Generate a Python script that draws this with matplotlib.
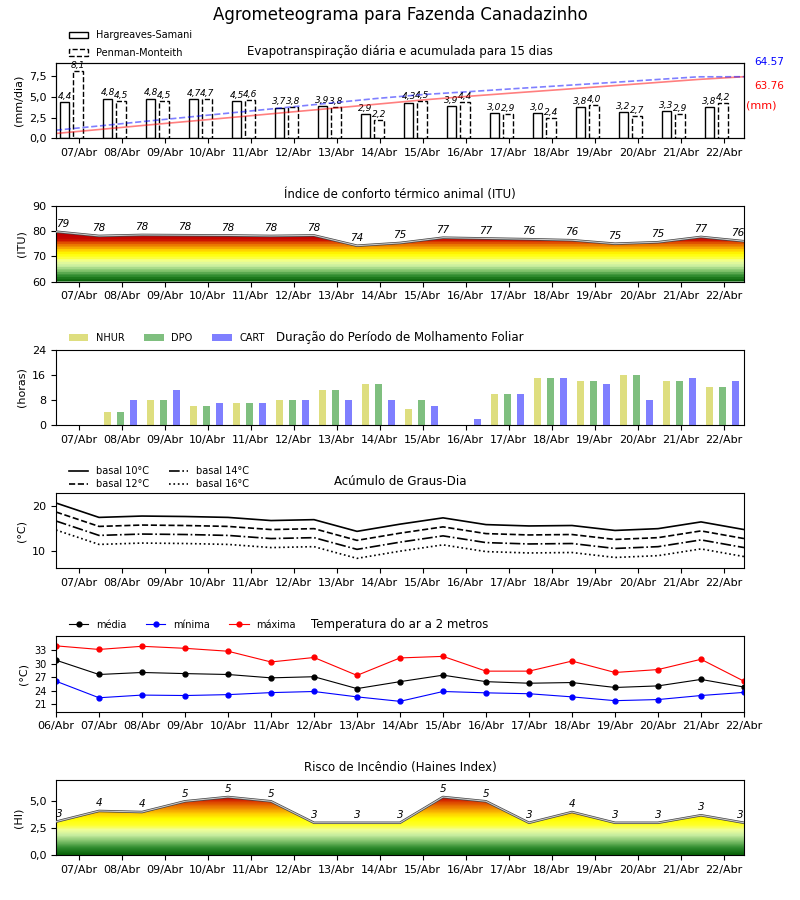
import numpy as np
import matplotlib
matplotlib.use('Agg')
import matplotlib.pyplot as plt
from matplotlib.colors import LinearSegmentedColormap
from matplotlib.ticker import FuncFormatter, MultipleLocator
from matplotlib.patches import Patch

# ---- data ----
dias = ['07/Abr', '08/Abr', '09/Abr', '10/Abr', '11/Abr', '12/Abr', '13/Abr', '14/Abr',
        '15/Abr', '16/Abr', '17/Abr', '18/Abr', '19/Abr', '20/Abr', '21/Abr', '22/Abr']
dias_temp = ['06/Abr'] + dias

et_hs = [4.4, 4.8, 4.8, 4.7, 4.5, 3.7, 3.9, 2.9, 4.3, 3.9, 3.0, 3.0, 3.8, 3.2, 3.3, 3.8]
et_pm = [8.1, 4.5, 4.5, 4.7, 4.6, 3.8, 3.8, 2.2, 4.5, 4.4, 2.9, 2.4, 4.0, 2.7, 2.9, 4.2]
acum_hs = [5.0, 9.5, 14.0, 18.4, 22.8, 27.3, 31.7, 36.2, 40.7, 44.6, 48.2, 51.7, 55.3, 58.9, 62.5, 65.4]
acum_pm = [8.5, 13.3, 18.2, 23.0, 27.8, 32.6, 37.5, 42.3, 46.4, 49.5, 52.7, 55.8, 58.9, 62.1, 65.3, 65.4]
total_hs = '63.76'
total_pm = '64.57'

itu = [79.9, 78.2, 78.6, 78.5, 78.4, 78.2, 78.4, 74.3, 75.4, 77.5, 77.2, 76.9, 76.5,
       75.1, 75.7, 77.8, 76.1]

nhur = [0, 4, 8, 6, 7, 8, 11, 13, 5, 0, 10, 15, 14, 16, 14, 12]
dpo = [0, 4, 8, 6, 7, 8, 11, 13, 8, 0, 10, 15, 14, 16, 14, 12]
cart = [0, 8, 11, 7, 7, 8, 8, 8, 6, 2, 10, 15, 13, 8, 15, 14]

gd10 = [20.7, 17.5, 17.8, 17.7, 17.5, 16.8, 17.0, 14.4, 16.0, 17.4, 15.9, 15.6, 15.7, 14.6, 15.0, 16.5, 14.8]
gd12 = [18.7, 15.5, 15.8, 15.7, 15.5, 14.8, 15.0, 12.4, 14.0, 15.4, 13.9, 13.6, 13.7, 12.6, 13.0, 14.5, 12.8]
gd14 = [16.7, 13.5, 13.8, 13.7, 13.5, 12.8, 13.0, 10.4, 12.0, 13.4, 11.9, 11.6, 11.7, 10.6, 11.0, 12.5, 10.8]
gd16 = [14.7, 11.5, 11.8, 11.7, 11.5, 10.8, 11.0, 8.4, 10.0, 11.4, 9.9, 9.6, 9.7, 8.6, 9.0, 10.5, 8.8]

t_med = [30.8, 27.6, 28.05, 27.8, 27.6, 26.85, 27.1, 24.45, 26.0, 27.45, 26.0, 25.65, 25.8,
         24.7, 25.05, 26.5, 24.8]
t_min = [26.1, 22.4, 23.0, 22.9, 23.1, 23.55, 23.8, 22.6, 21.6, 23.8, 23.5, 23.3, 22.6,
         21.75, 22.0, 22.9, 23.6]
t_max = [34.0, 33.2, 33.9, 33.45, 32.8, 30.4, 31.4, 27.4, 31.3, 31.65, 28.35, 28.35, 30.6,
         28.05, 28.7, 31.0, 26.1]

haines = [3.1, 4.1, 4.0, 5.0, 5.4, 5.0, 3.0, 3.0, 3.0, 5.4, 5.0, 3.0, 4.0, 3.0, 3.0, 3.7, 3.0]

# ---- helpers ----
def virgula(v, pos=None):
    return ('%.1f' % v).replace('.', ',')


def gradient_fill(ax, x, y, cmap, y0, y1):
    poly = ax.fill_between(x, y0, y, color='none', lw=0)
    path = poly.get_paths()[0]
    grad = np.linspace(y0, y1, 300).reshape(-1, 1)
    im = ax.imshow(grad, cmap=cmap, aspect='auto', origin='lower',
                   extent=[x[0], x[-1], y0, y1], vmin=y0, vmax=y1, zorder=1)
    im.set_clip_path(path, transform=ax.transData)
    ax.plot(x, y, color='#444444', lw=1.8, zorder=3)
    ax.plot(x, y, color='#c8c8c8', lw=0.8, zorder=4)


def label_points(ax, x, y, fs=7.5):
    n = len(x)
    for i in range(n):
        ha = 'center'
        if i == 0:
            ha = 'left'
        if i == n - 1:
            ha = 'right'
        ax.annotate('%d' % int(y[i]), (x[i], y[i]), xytext=(0, 2), textcoords='offset points',
                    ha=ha, va='bottom', fontsize=fs, style='italic', zorder=5)


itu_cmap = LinearSegmentedColormap.from_list('itu', [
    (0.0, '#0a640a'), (2 / 30, '#2e8b2e'), (4 / 30, '#7dc06a'), (6 / 30, '#c8eea0'),
    (8 / 30, '#f0ff9a'), (9.5 / 30, '#ffff30'), (11 / 30, '#ffff00'), (12.5 / 30, '#ffd000'),
    (14 / 30, '#f09000'), (15.5 / 30, '#e05000'), (16.5 / 30, '#cc1500'), (18 / 30, '#c00000'),
    (1.0, '#c00000')], N=30)

hi_cmap = LinearSegmentedColormap.from_list('hi', [
    (0.0, '#0a640a'), (0.6 / 7, '#2e8b2e'), (1.2 / 7, '#7dc06a'), (1.8 / 7, '#c8eea0'),
    (2.3 / 7, '#f0ff9a'), (2.7 / 7, '#ffff30'), (3.3 / 7, '#ffff00'), (3.8 / 7, '#ffd000'),
    (4.3 / 7, '#f09000'), (4.8 / 7, '#e05000'), (5.2 / 7, '#cc1500'), (5.6 / 7, '#c00000'),
    (1.0, '#c00000')], N=56)

x16 = np.arange(16)
x17 = np.arange(17)
ticks = x16 + 0.53

fig, axes = plt.subplots(6, 1, figsize=(8, 9), dpi=100)
plt.subplots_adjust(left=0.07, right=0.93, top=0.93, bottom=0.05, hspace=0.907)
fig.suptitle('Agrometeograma para Fazenda Canadazinho', fontsize=12, y=0.993)

for ax in axes:
    ax.tick_params(labelsize=8)

# 1 - evapotranspiracao
ax = axes[0]
w = 0.22
ax.bar(x16 + 0.2, et_hs, w, facecolor='white', edgecolor='black', lw=1, zorder=2)
ax.bar(x16 + 0.51, et_pm, w, facecolor='white', edgecolor='black', lw=1, ls='--', zorder=2)
for i in range(16):
    ax.text(x16[i] + 0.2, et_hs[i] + 0.15, virgula(et_hs[i]), ha='center', va='bottom',
            fontsize=6.5, style='italic')
    ax.text(x16[i] + 0.51, et_pm[i] + 0.15, virgula(et_pm[i]), ha='center', va='bottom',
            fontsize=6.5, style='italic')
ax.set_ylim(0, 9.1)
ax.set_yticks([0, 2.5, 5, 7.5])
ax.yaxis.set_major_formatter(FuncFormatter(virgula))
ax.set_ylabel('(mm/dia)', fontsize=8)
ax.set_title('Evapotranspiração diária e acumulada para 15 dias', fontsize=8.5)
ax.legend([Patch(facecolor='white', edgecolor='black'),
           Patch(facecolor='white', edgecolor='black', ls='--')],
          ['Hargreaves-Samani', 'Penman-Monteith'], loc='lower left',
          bbox_to_anchor=(0.013, 1.02), frameon=False, fontsize=7, borderaxespad=0,
          labelspacing=0.75)
tw = ax.twinx()
xl = np.linspace(0, 16, 16)
tw.plot(xl, acum_hs, color='r', alpha=0.5, lw=1.2)
tw.plot(xl, acum_pm, color='b', alpha=0.5, lw=1.2, ls='--')
tw.set_ylim(0, 80)
tw.set_yticks([])
ax.text(1.015, 1.013, total_pm, color='b', fontsize=7.5, transform=ax.transAxes, va='center')
ax.text(1.015, 0.693, total_hs, color='r', fontsize=7.5, transform=ax.transAxes, va='center')
ax.text(1.003, 0.44, '(mm)', color='r', fontsize=8, transform=ax.transAxes, va='center')

# 2 - ITU
ax = axes[1]
gradient_fill(ax, x17, itu, itu_cmap, 60, 90)
label_points(ax, x17, itu)
ax.set_ylim(60, 90)
ax.set_yticks([60, 70, 80, 90])
ax.set_ylabel('(ITU)', fontsize=8)
ax.set_title('Índice de conforto térmico animal (ITU)', fontsize=8.5)

# 3 - molhamento foliar
ax = axes[2]
ax.bar(x16 + 0.2, nhur, 0.165, color='y', alpha=0.5, lw=0, label='NHUR')
ax.bar(x16 + 0.5, dpo, 0.165, color='g', alpha=0.5, lw=0, label='DPO')
ax.bar(x16 + 0.8, cart, 0.165, color='b', alpha=0.5, lw=0, label='CART')
ax.set_ylim(0, 24)
ax.set_yticks([0, 8, 16, 24])
ax.set_ylabel('(horas)', fontsize=8)
ax.set_title('Duração do Período de Molhamento Foliar', fontsize=8.5)
ax.legend(loc='lower left', bbox_to_anchor=(0.013, 1.035), ncol=3, frameon=False, fontsize=7,
          borderaxespad=0)

# 4 - graus-dia
ax = axes[3]
ax.plot(x17, gd10, 'k-', lw=1.2, label='basal 10°C')
ax.plot(x17, gd12, 'k--', lw=1.2, label='basal 12°C')
ax.plot(x17, gd14, 'k-.', lw=1.2, label='basal 14°C')
ax.plot(x17, gd16, 'k:', lw=1.2, label='basal 16°C')
ax.set_ylim(6.2, 22.9)
ax.yaxis.set_major_locator(MultipleLocator(10))
ax.set_ylabel('(°C)', fontsize=8)
ax.set_title('Acúmulo de Graus-Dia', fontsize=8.5)
ax.legend(loc='lower left', bbox_to_anchor=(0.013, 1.0), ncol=2, frameon=False, fontsize=7,
          borderaxespad=0, labelspacing=0.3)

# 5 - temperatura
ax = axes[4]
ax.plot(x17, t_med, 'k-', marker='o', ms=3.5, lw=0.8, label='média')
ax.plot(x17, t_min, 'b-', marker='o', ms=3.5, lw=0.8, label='mínima')
ax.plot(x17, t_max, 'r-', marker='o', ms=3.5, lw=0.8, label='máxima')
ax.set_ylim(19.3, 36.1)
ax.set_yticks([21, 24, 27, 30, 33])
ax.tick_params(axis='y', labelsize=7)
ax.set_ylabel('(°C)', fontsize=8)
ax.set_title('Temperatura do ar a 2 metros', fontsize=8.5)
ax.legend(loc='lower left', bbox_to_anchor=(0.013, 1.04), ncol=3, frameon=False, fontsize=7,
          borderaxespad=0)
ax.set_xlim(0, 16)
ax.set_xticks(x17)
ax.set_xticklabels(dias_temp)

# 6 - Haines
ax = axes[5]
gradient_fill(ax, x17, haines, hi_cmap, 0, 7)
label_points(ax, x17, haines)
ax.set_ylim(0, 7)
ax.set_yticks([0, 2.5, 5])
ax.yaxis.set_major_formatter(FuncFormatter(virgula))
ax.set_ylabel('(HI)', fontsize=8)
ax.set_title('Risco de Incêndio (Haines Index)', fontsize=8.5)

for i in [0, 1, 2, 3, 5]:
    axes[i].set_xlim(0, 16)
    axes[i].set_xticks(ticks)
    axes[i].set_xticklabels(dias)

plt.savefig('out.png', dpi=100)
